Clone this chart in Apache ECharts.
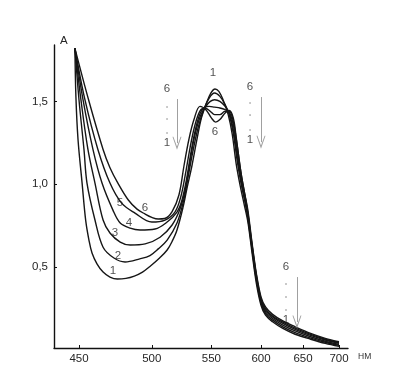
<!DOCTYPE html>
<html>
<head>
<meta charset="utf-8">
<script src="https://cdn.jsdelivr.net/npm/echarts@6/dist/echarts.min.js"></script>
<style>
html,body{margin:0;padding:0;background:#fff;}
#main{width:399px;height:384px;}
</style>
</head>
<body>
<div id="main"></div>
<script>
// spectra, [wavelength nm, absorbance]
var curve1 = [[447.5,1.82],[448.1,1.53],[449.4,1.27],[451.9,1.01],[454.2,0.78],[456.3,0.66],[458.2,0.585],[461.4,0.52],[465.4,0.47],[470,0.44],[475,0.428],[481,0.432],[487,0.446],[493,0.47],[499,0.507],[506,0.555],[512,0.603],[516,0.655],[520,0.724],[525,0.86],[528.5,0.98],[532.6,1.11],[537,1.27],[541,1.40],[545.6,1.49],[549.5,1.55],[553.4,1.575],[557,1.56],[561,1.51],[566,1.42],[570,1.30],[574,1.12],[578,0.99],[582,0.88],[586,0.77],[590,0.60],[595,0.40],[600,0.27],[605,0.21],[613,0.17],[625,0.13],[640,0.095],[660,0.065],[680,0.04],[700,0.022]]
var curve2 = [[447.5,1.82],[450,1.51],[453.1,1.21],[455,1.007],[460.1,0.784],[465.4,0.62],[472.7,0.555],[480.4,0.531],[491,0.55],[498.6,0.57],[505,0.61],[512,0.663],[520,0.766],[525.5,0.90],[529.5,1.05],[533.5,1.20],[538,1.34],[543,1.45],[548,1.52],[553,1.55],[558,1.53],[563,1.48],[567,1.42],[571,1.31],[575,1.14],[579,1.00],[583,0.89],[586,0.79],[590,0.62],[595,0.42],[600,0.285],[605,0.22],[613,0.18],[625,0.14],[640,0.105],[660,0.072],[680,0.047],[700,0.028]]
var curve3 = [[447.5,1.82],[451.2,1.51],[455.6,1.21],[460.1,1.007],[465.4,0.784],[470,0.706],[477,0.651],[484,0.633],[495,0.64],[506.4,0.68],[516,0.754],[522.5,0.85],[527,0.97],[531,1.14],[535,1.29],[540,1.41],[545,1.47],[549,1.50],[553,1.51],[558,1.50],[563,1.47],[567,1.43],[571,1.33],[575,1.17],[579,1.02],[583,0.90],[586,0.805],[590,0.63],[595,0.43],[600,0.295],[605,0.23],[613,0.19],[625,0.15],[640,0.115],[660,0.08],[680,0.053],[700,0.033]]
var curve4 = [[447.5,1.82],[452.5,1.51],[458.8,1.21],[464.7,1.007],[472,0.844],[477,0.766],[484,0.735],[491.2,0.724],[502.5,0.73],[512,0.772],[520,0.832],[524,0.90],[528,1.03],[532,1.20],[536,1.34],[540,1.43],[544,1.465],[548,1.47],[553,1.465],[558,1.46],[563,1.45],[567,1.435],[571,1.36],[575,1.20],[579,1.04],[583,0.92],[586,0.815],[590,0.64],[595,0.44],[600,0.30],[605,0.24],[613,0.20],[625,0.16],[640,0.125],[660,0.088],[680,0.06],[700,0.04]]
var curve5 = [[447.5,1.82],[453.7,1.51],[462,1.21],[470,1.007],[478,0.886],[487.5,0.826],[500,0.772],[510.3,0.784],[518.3,0.832],[523,0.92],[527,1.06],[531,1.22],[535,1.35],[539.5,1.44],[544,1.46],[549,1.44],[553,1.42],[558,1.42],[563,1.44],[567,1.44],[571,1.38],[575,1.23],[579,1.06],[583,0.93],[586,0.825],[590,0.65],[595,0.45],[600,0.31],[605,0.25],[613,0.205],[625,0.168],[640,0.132],[660,0.094],[680,0.065],[700,0.045]]
var curve6 = [[447.5,1.82],[456,1.51],[465.4,1.21],[470,1.10],[475.4,1.007],[482.7,0.905],[489,0.85],[495,0.82],[500,0.80],[505,0.79],[510,0.793],[516,0.835],[521.6,0.935],[525.8,1.11],[530,1.27],[534.4,1.39],[539.7,1.47],[545,1.45],[550,1.40],[554,1.375],[558,1.39],[563,1.43],[567,1.445],[571,1.40],[574,1.28],[578,1.10],[582,0.96],[586,0.84],[590,0.66],[595,0.46],[600,0.32],[605,0.26],[613,0.215],[625,0.175],[640,0.14],[660,0.10],[680,0.07],[700,0.05]]
var curves = [curve1, curve2, curve3, curve4, curve5, curve6]

var xTicks = [450, 500, 550, 600, 650, 700]
var yTicks = [0.5, 1.0, 1.5]

// curve numbers: [text, wavelength, absorbance]
var curveLabels = [['1',472.1,0.476],['2',475.5,0.567],['3',473.4,0.706],['4',483.2,0.766],['5',476.9,0.887],['6',494.9,0.856],['1',551.5,1.67],['6',553.4,1.315]]
// arrow groups: [wavelength of arrow, top, bottom, wavelength of text, A of "6", A of "1"]
var arrows = [[520.0,1.514,1.248,511.9,1.574,1.248],[600.0,1.526,1.254,588.2,1.586,1.266],[642.3,0.44,0.169,628.8,0.50,0.181]]
var arrowDots = [[511.9,1.466],[511.9,1.394],[511.9,1.309],[588.2,1.49],[588.2,1.417],[588.2,1.327],[628.8,0.398],[628.8,0.32],[628.8,0.241]]

function k(wl) { return 1e4 / wl }  // reciprocal wavelength scale

var chart = echarts.init(document.getElementById('main'))

var series = curves.map(function (c) {
  return {
    type: 'line',
    data: c.map(function (p) { return [k(p[0]), p[1]] }),
    smooth: 0.35,
    showSymbol: false,
    lineStyle: { color: '#161616', width: 1.4 },
    silent: true
  }
})

var noteData = curveLabels.map(function (l) {
  return { value: [k(l[1]), l[2]], label: { formatter: l[0] } }
})
arrows.forEach(function (a) {
  noteData.push({ value: [k(a[3]), a[4]], label: { formatter: '6' } })
  noteData.push({ value: [k(a[3]), a[5]], label: { formatter: '1' } })
})

series.push({
  type: 'scatter',
  data: noteData,
  symbolSize: 1,
  itemStyle: { color: 'rgba(0,0,0,0)' },
  label: { show: true, position: 'inside', color: '#262626', fontSize: 11.5, fontFamily: 'Liberation Sans' },
  silent: true
})

series.push({
  type: 'scatter',
  data: arrowDots.map(function (d) { return [k(d[0]), d[1]] }),
  symbolSize: 1.6,
  itemStyle: { color: '#666' },
  silent: true,
  markLine: {
    silent: true,
    symbol: ['none', 'path://M0,10 L5,0 L10,10 L9,10 L5,2.5 L1,10 Z'],
    symbolSize: [9, 13],
    label: { show: false },
    lineStyle: { color: '#a0a0a0', width: 1, type: 'solid' },
    data: arrows.map(function (a) {
      return [{ coord: [k(a[0]), a[1]] }, { coord: [k(a[0]), a[2]] }]
    })
  }
})

var option = {
  animation: false,
  backgroundColor: '#fff',
  grid: { left: 54, right: 51, top: 45, bottom: 36 },
  xAxis: {
    type: 'value',
    inverse: true,
    min: 14.011,
    max: 22.985,
    name: 'НМ',
    nameLocation: 'start',  // axis is inverted, so start is on the right
    nameGap: 10,
    nameTextStyle: { fontSize: 8.5, color: '#333', fontFamily: 'Liberation Sans', align: 'left', verticalAlign: 'top', padding: [4, 0, 0, 0] },
    axisLine: { lineStyle: { color: '#111', width: 1.4 } },
    axisTick: { inside: true, length: 3, lineStyle: { color: '#111' }, customValues: xTicks.map(k) },
    axisLabel: {
      customValues: xTicks.map(k),
      margin: 5,
      fontSize: 11.5,
      color: '#262626',
      fontFamily: 'Liberation Sans',
      formatter: function (v) { return Math.round(1e4 / v) }
    },
    splitLine: { show: false }
  },
  yAxis: {
    type: 'value',
    min: 0.012,
    max: 1.84,
    name: 'A',
    nameLocation: 'end',
    nameGap: -2,
    nameTextStyle: { fontSize: 11.5, color: '#262626', fontFamily: 'Liberation Sans', align: 'left', padding: [0, 0, 0, 6] },
    axisLine: { lineStyle: { color: '#111', width: 1.4 } },
    axisTick: { inside: true, length: 3, lineStyle: { color: '#111' }, customValues: yTicks },
    axisLabel: {
      customValues: yTicks,
      margin: 6,
      fontSize: 11.5,
      color: '#262626',
      fontFamily: 'Liberation Sans',
      formatter: function (v) { return v.toFixed(1).replace('.', ',') }
    },
    splitLine: { show: false }
  },
  series: series
}

chart.setOption(option)
</script>
</body>
</html>
